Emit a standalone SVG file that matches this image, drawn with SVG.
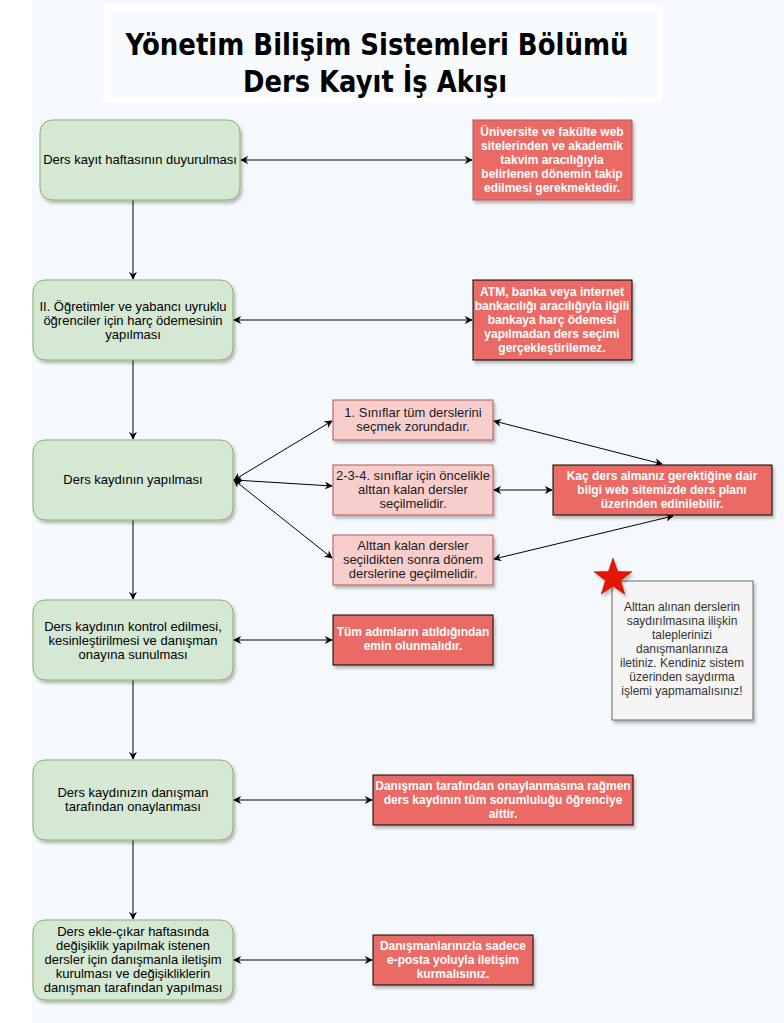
<svg xmlns="http://www.w3.org/2000/svg" width="784" height="1023" viewBox="0 0 784 1023">
<defs>
<style>
.bg{fill:#f5f9fd}
.green{fill:#d5e8d4;stroke:#82b366;stroke-width:1}
.red{fill:#ea6b66;stroke:#000;stroke-width:1}
.redb{fill:#ea6b66;stroke:#b85450;stroke-width:1}
.pink{fill:#f8cecc;stroke:#b85450;stroke-width:1}
.note{fill:#f5f5f5;stroke:#666;stroke-width:1}
text{font-family:"Liberation Sans",Arial,sans-serif;font-size:12px;text-anchor:middle}
.tw{fill:#fff;font-weight:bold}
.tk{fill:#000;font-size:13px}
.tp{fill:#1a1a1a;font-size:13px}
.tn{fill:#333}
.title{font-family:"DejaVu Sans","Liberation Sans",sans-serif;font-weight:bold;font-size:30px;fill:#000}
.conn line{stroke:#000;stroke-width:1;fill:none}
</style>
<marker id="arr" viewBox="0 0 10 10" refX="9" refY="5" markerWidth="8" markerHeight="8" orient="auto-start-reverse" markerUnits="userSpaceOnUse">
<path d="M0,0 L10,5 L0,10 L3,5 z" fill="#000"/>
</marker>
<filter id="sh" x="-10%" y="-10%" width="130%" height="140%">
<feDropShadow dx="2" dy="3" stdDeviation="1.5" flood-color="#000" flood-opacity="0.25"/>
</filter>
</defs>
<rect x="0" y="0" width="784" height="1023" fill="#fff"/>
<rect class="bg" x="32" y="0" width="752" height="1023"/>

<g id="title">
<rect x="106" y="8" width="554" height="92" fill="#f8fbfe" stroke="#fff" stroke-width="5"/>
<text class="title" x="377" y="55" textLength="503" lengthAdjust="spacingAndGlyphs">Yönetim Bilişim Sistemleri Bölümü</text>
<text class="title" x="375" y="92" textLength="264" lengthAdjust="spacingAndGlyphs">Ders Kayıt İş Akışı</text>
</g>

<g class="conn">
<line x1="133" y1="200" x2="133" y2="279" marker-end="url(#arr)"/>
<line x1="133" y1="360" x2="133" y2="439" marker-end="url(#arr)"/>
<line x1="133" y1="520" x2="133" y2="599" marker-end="url(#arr)"/>
<line x1="133" y1="680" x2="133" y2="759" marker-end="url(#arr)"/>
<line x1="133" y1="840" x2="133" y2="919" marker-end="url(#arr)"/>
<line x1="241" y1="160" x2="472" y2="160" marker-start="url(#arr)" marker-end="url(#arr)"/>
<line x1="234" y1="320" x2="472" y2="320" marker-start="url(#arr)" marker-end="url(#arr)"/>
<line x1="234" y1="480" x2="332" y2="421" marker-start="url(#arr)" marker-end="url(#arr)"/>
<line x1="234" y1="480" x2="332" y2="486" marker-start="url(#arr)" marker-end="url(#arr)"/>
<line x1="234" y1="480" x2="332" y2="558" marker-start="url(#arr)" marker-end="url(#arr)"/>
<line x1="494" y1="421" x2="662" y2="464" marker-start="url(#arr)" marker-end="url(#arr)"/>
<line x1="494" y1="490" x2="552" y2="490" marker-start="url(#arr)" marker-end="url(#arr)"/>
<line x1="494" y1="559" x2="673" y2="516" marker-start="url(#arr)" marker-end="url(#arr)"/>
<line x1="234" y1="640" x2="332" y2="640" marker-start="url(#arr)" marker-end="url(#arr)"/>
<line x1="234" y1="800" x2="372" y2="800" marker-start="url(#arr)" marker-end="url(#arr)"/>
<line x1="234" y1="960" x2="372" y2="960" marker-start="url(#arr)" marker-end="url(#arr)"/>
</g>

<g id="n1">
<rect class="green" x="40" y="120" width="200" height="80" rx="12" filter="url(#sh)"/>
<text class="tk" x="140" y="164">Ders kayıt haftasının duyurulması</text>
</g>
<g id="n2">
<rect class="green" x="33" y="280" width="200" height="80" rx="12" filter="url(#sh)"/>
<text class="tk" x="133" y="311">II. Öğretimler ve yabancı uyruklu</text>
<text class="tk" x="133" y="325">öğrenciler için harç ödemesinin</text>
<text class="tk" x="133" y="339">yapılması</text>
</g>
<g id="n3">
<rect class="green" x="33" y="440" width="200" height="80" rx="12" filter="url(#sh)"/>
<text class="tk" x="133" y="484">Ders kaydının yapılması</text>
</g>
<g id="n4">
<rect class="green" x="33" y="600" width="200" height="80" rx="12" filter="url(#sh)"/>
<text class="tk" x="133" y="631">Ders kaydının kontrol edilmesi,</text>
<text class="tk" x="133" y="645">kesinleştirilmesi ve danışman</text>
<text class="tk" x="133" y="659">onayına sunulması</text>
</g>
<g id="n5">
<rect class="green" x="33" y="760" width="200" height="80" rx="12" filter="url(#sh)"/>
<text class="tk" x="133" y="797">Ders kaydınızın danışman</text>
<text class="tk" x="133" y="811">tarafından onaylanması</text>
</g>
<g id="n6">
<rect class="green" x="33" y="920" width="200" height="80" rx="12" filter="url(#sh)"/>
<text class="tk" x="133" y="936">Ders ekle-çıkar haftasında</text>
<text class="tk" x="133" y="950">değişiklik yapılmak istenen</text>
<text class="tk" x="133" y="964">dersler için danışmanla iletişim</text>
<text class="tk" x="133" y="978">kurulması ve değişikliklerin</text>
<text class="tk" x="133" y="992">danışman tarafından yapılması</text>
</g>

<g id="r1">
<rect class="redb" x="473" y="120" width="159" height="80" filter="url(#sh)"/>
<text class="tw" x="552" y="136">Üniversite ve fakülte web</text>
<text class="tw" x="552" y="150">sitelerinden ve akademik</text>
<text class="tw" x="552" y="164">takvim aracılığıyla</text>
<text class="tw" x="552" y="178">belirlenen dönemin takip</text>
<text class="tw" x="552" y="192">edilmesi gerekmektedir.</text>
</g>
<g id="r2">
<rect class="red" x="473" y="280" width="159" height="80" filter="url(#sh)"/>
<text class="tw" x="552" y="296">ATM, banka veya internet</text>
<text class="tw" x="552" y="310">bankacılığı aracılığıyla ilgili</text>
<text class="tw" x="552" y="324">bankaya harç ödemesi</text>
<text class="tw" x="552" y="338">yapılmadan ders seçimi</text>
<text class="tw" x="552" y="352">gerçekleştirilemez.</text>
</g>
<g id="p1">
<rect class="pink" x="333" y="400" width="160" height="40" filter="url(#sh)"/>
<text class="tp" x="413" y="417">1. Sınıflar tüm derslerini</text>
<text class="tp" x="413" y="431">seçmek zorundadır.</text>
</g>
<g id="p2">
<rect class="pink" x="333" y="465" width="160" height="50" filter="url(#sh)"/>
<text class="tp" x="413" y="480">2-3-4. sınıflar için öncelikle</text>
<text class="tp" x="413" y="494">alttan kalan dersler</text>
<text class="tp" x="413" y="508">seçilmelidir.</text>
</g>
<g id="p3">
<rect class="pink" x="333" y="535" width="160" height="50" filter="url(#sh)"/>
<text class="tp" x="413" y="550">Alttan kalan dersler</text>
<text class="tp" x="413" y="564">seçildikten sonra dönem</text>
<text class="tp" x="413" y="578">derslerine geçilmelidir.</text>
</g>
<g id="r3">
<rect class="red" x="553" y="465" width="219" height="50" filter="url(#sh)"/>
<text class="tw" x="662" y="480">Kaç ders almanız gerektiğine dair</text>
<text class="tw" x="662" y="494">bilgi web sitemizde ders planı</text>
<text class="tw" x="662" y="508">üzerinden edinilebilir.</text>
</g>
<g id="note">
<rect class="note" x="612" y="581" width="141" height="139" filter="url(#sh)"/>
<text class="tn" x="682" y="611">Alttan alınan derslerin</text>
<text class="tn" x="682" y="625">saydırılmasına ilişkin</text>
<text class="tn" x="682" y="639">taleplerinizi</text>
<text class="tn" x="682" y="653">danışmanlarınıza</text>
<text class="tn" x="682" y="667">iletiniz. Kendiniz sistem</text>
<text class="tn" x="682" y="681">üzerinden saydırma</text>
<text class="tn" x="682" y="695">işlemi yapmamalısınız!</text>
</g>
<g id="star">
<polygon points="613,558 617.7,571.5 632,571.8 620.6,580.5 624.8,594.2 613,586 601.2,594.2 605.4,580.5 594,571.8 608.3,571.5" fill="#e51400" stroke="#b20000" stroke-width="0.5" filter="url(#sh)"/>
</g>
<g id="r4">
<rect class="red" x="333" y="615" width="160" height="50" filter="url(#sh)"/>
<text class="tw" x="413" y="636">Tüm adımların atıldığından</text>
<text class="tw" x="413" y="650">emin olunmalıdır.</text>
</g>
<g id="r5">
<rect class="red" x="373" y="775" width="260" height="50" filter="url(#sh)"/>
<text class="tw" x="503" y="790">Danışman tarafından onaylanmasına rağmen</text>
<text class="tw" x="503" y="804">ders kaydının tüm sorumluluğu öğrenciye</text>
<text class="tw" x="503" y="818">aittir.</text>
</g>
<g id="r6">
<rect class="red" x="373" y="935" width="160" height="50" filter="url(#sh)"/>
<text class="tw" x="453" y="950">Danışmanlarınızla sadece</text>
<text class="tw" x="453" y="964">e-posta yoluyla iletişim</text>
<text class="tw" x="453" y="978">kurmalısınız.</text>
</g>
</svg>
